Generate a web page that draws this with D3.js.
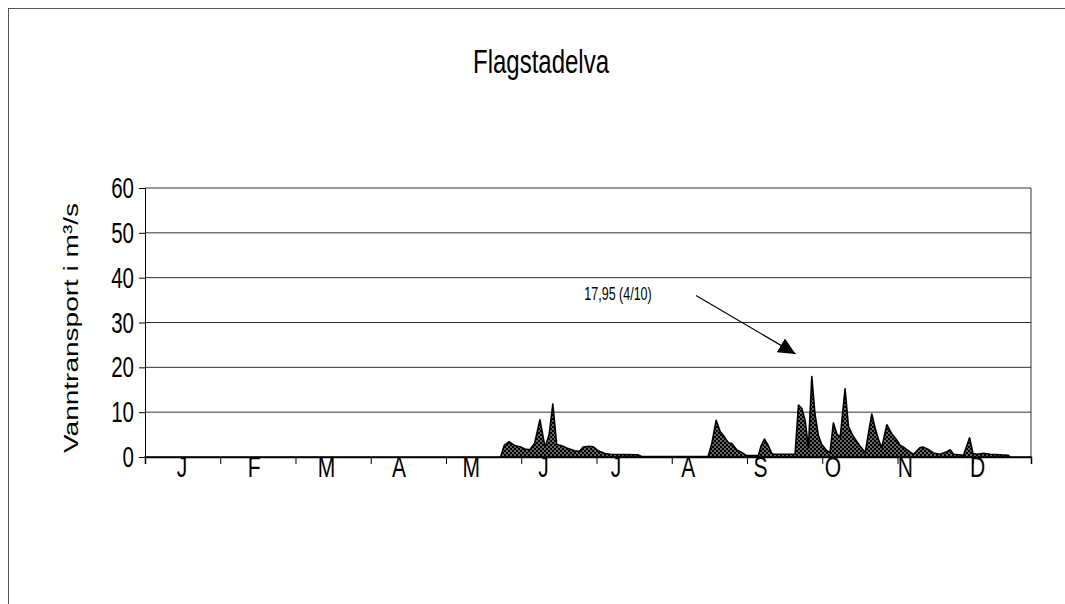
<!DOCTYPE html>
<html>
<head>
<meta charset="utf-8">
<script src="https://cdn.jsdelivr.net/npm/d3@7"></script>
<style>
  html, body { margin: 0; padding: 0; background: #fff; }
  svg { display: block; font-family: "Liberation Sans", Arial, sans-serif; }
</style>
</head>
<body>
<svg id="chart" width="1065" height="604"></svg>
<script>
// ---- data ----
const chartTitle = "Flagstadelva";
const yTitle = "Vanntransport i m³/s";
const monthLabels = ["J", "F", "M", "A", "M", "J", "J", "A", "S", "O", "N", "D"];
const yTicks = [0, 10, 20, 30, 40, 50, 60];
// day of year (0-365) and flow in m³/s
const flowDays = [0, 146.5, 148, 150, 152.5, 154.5, 156.5, 158.5, 160.5, 162.7, 164.8, 166.5, 168, 169.6, 171.7, 173.7, 177, 179, 180.5, 183, 184.6, 186.6, 189.5, 191.6, 203, 204.6,
  232, 233.5, 235.3, 237, 238.3, 240.3, 241.7, 243.8, 245.8, 247.9, 252.7, 253.8, 255.2, 256.9, 258.2, 259, 267.8,
  269.2, 270.6, 272, 273.3, 274.7, 276, 277.4, 278.8, 280.9, 282.2, 283.6, 285, 286.4, 288.4, 289.8, 291.2, 292.5, 294.6, 296.7,
  299.4, 300.8, 302.1, 303.5, 305.6, 307.6, 309.7, 311, 313, 315, 316.6, 319.3, 320.7, 322.7, 324.8, 327.6, 330.3, 331.7, 333.1,
  337.2, 339.7, 341.1, 342.7, 345.4, 348.2, 355.7, 356.4, 365];
const flowValues = [0, 0, 2.6, 3.4, 2.5, 2.3, 1.8, 1.6, 3.0, 8.3, 2.2, 5.0, 11.8, 2.8, 2.5, 2.0, 1.4, 1.3, 2.2, 2.4, 2.3, 1.4, 0.8, 0.6, 0.5, 0.1,
  0.1, 3.0, 8.2, 5.6, 4.8, 3.2, 3.0, 1.6, 1.0, 0.3, 0.3, 2.5, 4.0, 2.4, 0.8, 0.6, 0.6,
  11.6, 10.8, 8.0, 2.0, 17.95, 9.6, 4.8, 2.8, 1.4, 1.0, 7.6, 5.2, 4.4, 15.2, 6.8, 5.2, 4.0, 2.4, 1.0,
  9.6, 6.4, 4.0, 2.0, 7.2, 5.2, 3.8, 2.7, 2.0, 1.2, 0.6, 2.1, 2.2, 1.7, 0.9, 0.6, 1.2, 1.6, 0.6,
  0.4, 4.3, 0.8, 0.6, 0.8, 0.6, 0.4, 0, 0];
const peakLabel = "17,95 (4/10)";
const annotText = { day: 181, value: 35.0 };
const annotFrom = { day: 227, value: 36.0 };
const annotTo = { day: 268, value: 23.0 };

// ---- layout ----
const svg = d3.select("#chart");
const plot = { left: 145, right: 1031, top: 188, bottom: 457 };
const x = d3.scaleLinear().domain([0, 365]).range([plot.left, plot.right]);
const y = d3.scaleLinear().domain([0, 60]).range([plot.bottom, plot.top]);
const stretch = 1.4; // the original picture is stretched vertically

// outer frame
svg.append("rect").attr("x", 8.5).attr("y", 8.5).attr("width", 1200).attr("height", 800)
  .attr("fill", "none").attr("stroke", "#555").attr("stroke-width", 1);

// pattern
const defs = svg.append("defs");
const pat = defs.append("pattern").attr("id", "dots").attr("patternUnits", "userSpaceOnUse")
  .attr("width", 4).attr("height", 4);
pat.append("rect").attr("width", 4).attr("height", 4).attr("fill", "#000");
pat.append("circle").attr("cx", 1).attr("cy", 1).attr("r", 0.75).attr("fill", "#fff");
pat.append("circle").attr("cx", 3).attr("cy", 3).attr("r", 0.75).attr("fill", "#fff");

const mk = defs.append("marker").attr("id", "arrow").attr("markerUnits", "userSpaceOnUse")
  .attr("markerWidth", 20).attr("markerHeight", 20).attr("refX", 17).attr("refY", 8)
  .attr("orient", "auto");
mk.append("path").attr("d", "M0,0 L17,8 L0,16 Z").attr("fill", "#000");

// title
svg.append("text").attr("transform", `translate(541,73) scale(1,${stretch})`)
  .attr("text-anchor", "middle").attr("font-size", 24).text(chartTitle);

// gridlines
svg.append("g").selectAll("line").data(yTicks.filter(d => d > 0)).join("line")
  .attr("x1", plot.left).attr("x2", plot.right)
  .attr("y1", d => y(d)).attr("y2", d => y(d))
  .attr("stroke", "#333").attr("stroke-width", 1);
// right frame
svg.append("line").attr("x1", plot.right).attr("x2", plot.right)
  .attr("y1", plot.top).attr("y2", plot.bottom).attr("stroke", "#333");

// area
const area = d3.area().x((d, i) => x(flowDays[i])).y0(y(0)).y1(d => y(d)).curve(d3.curveLinear);
svg.append("path").datum(flowValues).attr("d", area)
  .attr("fill", "url(#dots)").attr("stroke", "#000").attr("stroke-width", 1.6)
  .attr("stroke-linejoin", "round");

// y axis
const yAxis = d3.axisLeft(y).tickValues(yTicks).tickSize(6).tickFormat("");
const ga = svg.append("g").attr("transform", `translate(${plot.left},0)`).call(yAxis);
ga.select(".domain").attr("stroke", "#000");
ga.selectAll(".tick line").attr("stroke", "#000");
svg.append("g").selectAll("text").data(yTicks).join("text")
  .attr("transform", d => `translate(134,${y(d) + 10}) scale(1,${stretch})`)
  .attr("text-anchor", "end").attr("font-size", 20.5).text(d => d);

// x axis
const tickDays = d3.range(0, 365, 31);
const xAxis = d3.axisBottom(x).tickValues(tickDays).tickSize(7).tickFormat("");
const gx = svg.append("g").attr("transform", `translate(0,${plot.bottom})`).call(xAxis);
gx.select(".domain").attr("stroke", "#000").attr("stroke-width", 1.5);
gx.selectAll(".tick line").attr("stroke", "#000");
svg.append("g").selectAll("text").data(monthLabels).join("text")
  .attr("transform", (d, i) => `translate(${x(15.2 + 29.8 * i)},477) scale(1,${stretch})`)
  .attr("text-anchor", "middle").attr("font-size", 21).text(d => d);

// y title
svg.append("text").attr("transform", `translate(78,328) rotate(-90) scale(${stretch},1)`)
  .attr("text-anchor", "middle").attr("font-size", 20).text(yTitle);

// annotation
svg.append("text").attr("transform", `translate(${x(annotText.day)},${y(annotText.value)}) scale(1,${stretch})`)
  .attr("font-size", 12.5).text(peakLabel);
svg.append("line").attr("x1", x(annotFrom.day)).attr("y1", y(annotFrom.value))
  .attr("x2", x(annotTo.day)).attr("y2", y(annotTo.value))
  .attr("stroke", "#000").attr("stroke-width", 1.2).attr("marker-end", "url(#arrow)");
</script>
</body>
</html>
